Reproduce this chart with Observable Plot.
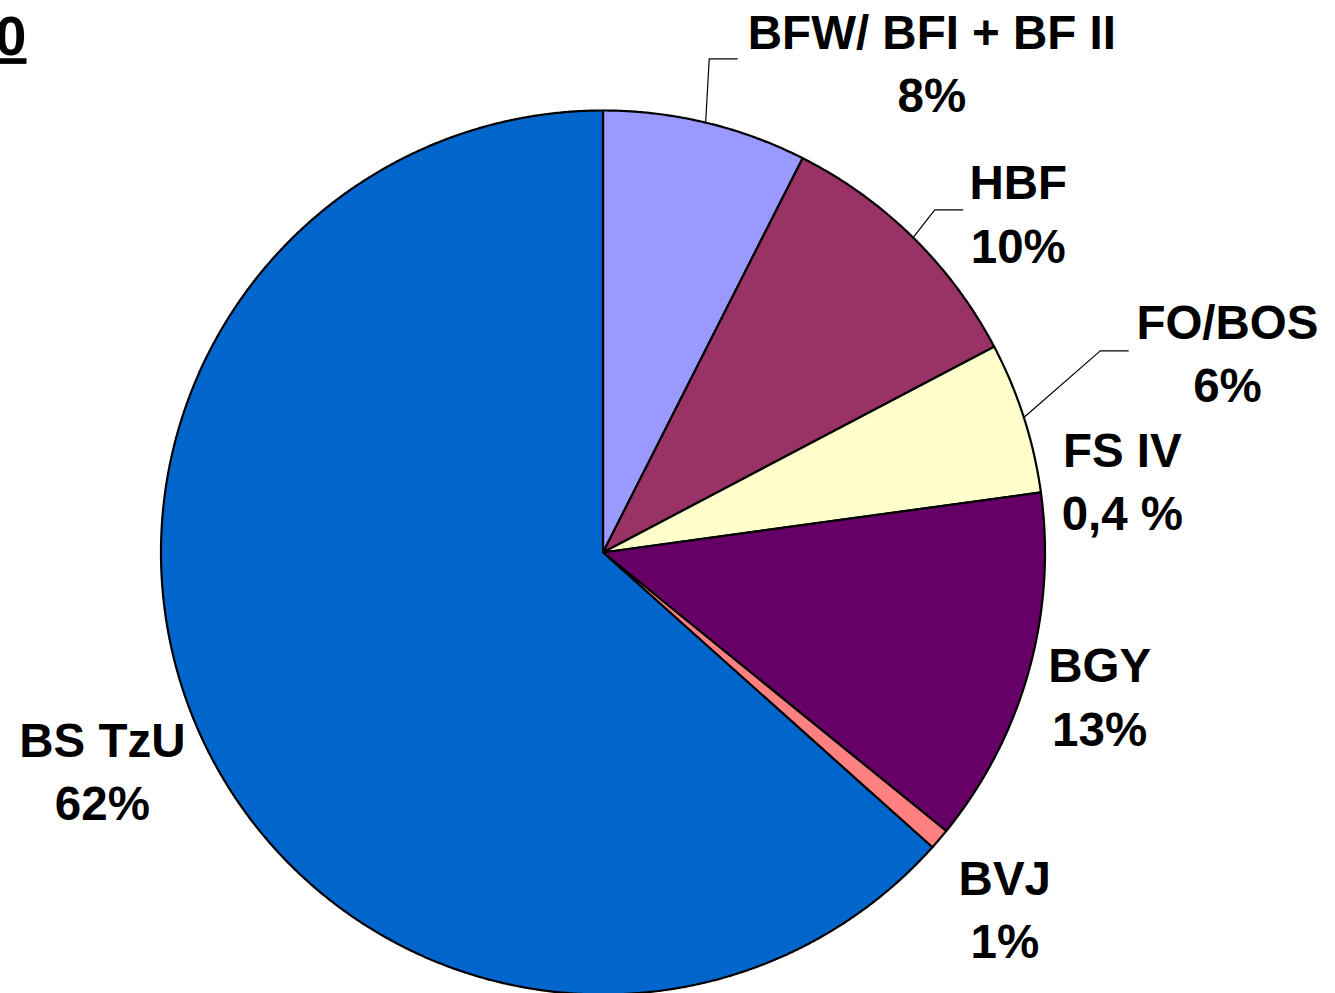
<!DOCTYPE html>
<html>
<head>
<meta charset="utf-8">
<script src="https://cdn.jsdelivr.net/npm/d3@7"></script>
<script src="https://cdn.jsdelivr.net/npm/@observablehq/plot@0.6"></script>
<style>
  html, body { margin: 0; padding: 0; background: #ffffff; }
  #chart { width: 1335px; height: 993px; overflow: hidden; }
</style>
</head>
<body>
<div id="chart"></div>
<script>
// ---- data ----
const categories = ["BFW/ BFI + BF II", "HBF", "FO/BOS", "FS IV", "BGY", "BVJ", "BS TzU"];
const shares = [7.46, 9.83, 5.54, 0, 13.02, 0.77, 63.38];      // slice sizes (%)
const percentLabels = ["8%", "10%", "6%", "0,4 %", "13%", "1%", "62%"];
const sliceColors = ["#9999FF", "#993366", "#FFFFCC", "#CCFFFF", "#660066", "#FF8080", "#0066CC"];
const titleText = "2010";

// ---- layout (polar: degrees clockwise from 12 o'clock, radius in pie radii) ----
const labelAngle  = [33.9, 50.8, 72.3, 82.2, 106.2, 131.6, 246.4];
const labelRadius = [1.334, 1.2125, 1.483, 1.186, 1.170, 1.2156, 1.236];
const leaderIndex = [0, 1, 2];
const leaderEndAngle  = [15.21, 46.4, 69.0];
const leaderEndRadius = [1.1575, 1.124, 1.273];

const W = 1335, H = 993;
const CX = 602.5, CY = 552, R = 442;
const FS = 47.5;

const rad = d => d * Math.PI / 180;
const polar = (deg, r) => [r * Math.sin(rad(deg)), r * Math.cos(rad(deg))];

// slice angle bounds
const total = d3.sum(shares);
const ends = d3.cumsum(shares).map(v => v / total * 360);
const starts = [0, ...ends.slice(0, -1)];

// slice outlines
const slicePts = [];
categories.forEach((c, i) => {
  if (shares[i] <= 0) return;
  const a0 = starts[i], a1 = ends[i];
  const n = Math.max(2, Math.ceil((a1 - a0) / 0.25));
  slicePts.push({cat: c, x: 0, y: 0});
  for (let k = 0; k <= n; k++) {
    const [x, y] = polar(a0 + (a1 - a0) * k / n, 1);
    slicePts.push({cat: c, x, y});
  }
  slicePts.push({cat: c, x: 0, y: 0});
});

// labels
const labels = categories.map((c, i) => {
  const [x, y] = polar(labelAngle[i], labelRadius[i]);
  return {text: c + "\n" + percentLabels[i], x, y};
});

// leader lines
const leaderPts = [];
leaderIndex.forEach((i, j) => {
  const mid = (starts[i] + ends[i]) / 2;
  const [sx, sy] = polar(mid, 1);
  const [ex, ey] = polar(leaderEndAngle[j], leaderEndRadius[j]);
  const bx = ex - 28 / R;
  leaderPts.push({id: j, x: sx, y: sy}, {id: j, x: bx, y: ey}, {id: j, x: ex, y: ey});
});

const marks = [];
categories.forEach((c, i) => {
  if (shares[i] <= 0) return;
  marks.push(Plot.line(slicePts.filter(d => d.cat === c), {
    x: "x", y: "y", fill: sliceColors[i], stroke: "#000", strokeWidth: 2.2,
    strokeLinejoin: "round", curve: "linear"
  }));
});
marks.push(Plot.line(leaderPts, {x: "x", y: "y", z: "id", stroke: "#000", strokeWidth: 1.2}));
marks.push(Plot.text(labels, {
  x: "x", y: "y", text: "text", fontSize: FS, fontWeight: "bold", fill: "#000",
  lineHeight: 1.337, textAnchor: "middle", lineAnchor: "middle", dy: -3
}));
marks.push(Plot.text([titleText], {
  frameAnchor: "top-left", textAnchor: "end", lineAnchor: "top",
  dx: 26, dy: 15, fontSize: 56, fontWeight: "bold", fill: "#000"
}));

const chart = Plot.plot({
  width: W, height: H,
  margin: 0,
  style: {fontFamily: "'Liberation Sans', Arial, sans-serif", background: "#ffffff"},
  x: {type: "linear", domain: [-CX / R, (W - CX) / R], range: [0, W], axis: null},
  y: {type: "linear", domain: [(CY - H) / R, CY / R], range: [H, 0], axis: null},
  marks
});

d3.select(chart).selectAll("text")
  .filter(function () { return this.textContent === titleText; })
  .style("text-decoration", "underline");

document.getElementById("chart").appendChild(chart);
</script>
</body>
</html>
